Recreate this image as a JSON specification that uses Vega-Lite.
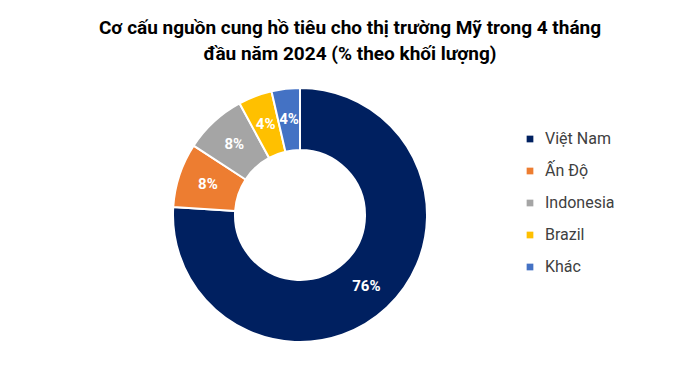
{
  "$schema": "https://vega.github.io/schema/vega-lite/v6.json",
  "width": 600,
  "height": 254,
  "autosize": {"type": "none"},
  "padding": {"top": 88, "left": 0, "right": 100, "bottom": 41},
  "background": "white",
  "title": {
    "text": ["Cơ cấu nguồn cung hồ tiêu cho thị trường Mỹ trong 4 tháng", "đầu năm 2024 (% theo khối lượng)"],
    "font": "Roboto",
    "fontSize": 19,
    "fontWeight": "bold",
    "color": "#000000",
    "anchor": "middle",
    "dx": 50,
    "offset": 20,
    "lineHeight": 26
  },
  "config": {"view": {"stroke": null}},
  "data": {
    "values": [
      {"country": "Việt Nam", "share": 76.0, "label": "76%", "ord": 1},
      {"country": "Ấn Độ", "share": 8.2, "label": "8%", "ord": 2},
      {"country": "Indonesia", "share": 7.9, "label": "8%", "ord": 3},
      {"country": "Brazil", "share": 4.3, "label": "4%", "ord": 4},
      {"country": "Khác", "share": 3.6, "label": "4%", "ord": 5}
    ]
  },
  "encoding": {
    "theta": {"field": "share", "type": "quantitative", "stack": true},
    "order": {"field": "ord", "type": "quantitative"}
  },
  "layer": [
    {
      "mark": {"type": "arc", "innerRadius": 65, "outerRadius": 127, "stroke": "white", "strokeWidth": 2},
      "encoding": {
        "color": {
          "field": "country",
          "type": "nominal",
          "sort": ["Việt Nam", "Ấn Độ", "Indonesia", "Brazil", "Khác"],
          "scale": {
            "domain": ["Việt Nam", "Ấn Độ", "Indonesia", "Brazil", "Khác"],
            "range": ["#002060", "#ED7D31", "#A5A5A5", "#FFC000", "#4472C4"]
          },
          "legend": {
            "title": null,
            "orient": "none",
            "legendX": 522,
            "legendY": 43,
            "symbolType": "square",
            "symbolSize": 45,
            "symbolStrokeWidth": 0,
            "labelFont": "Roboto",
            "labelFontSize": 16,
            "labelColor": "#404040",
            "labelOffset": 7,
            "labelLimit": 200,
            "rowPadding": 16
          }
        }
      }
    },
    {
      "mark": {"type": "text", "radius": 97, "font": "Roboto", "fontSize": 15, "fontWeight": "bold", "color": "white"},
      "encoding": {"text": {"field": "label"}}
    }
  ]
}
